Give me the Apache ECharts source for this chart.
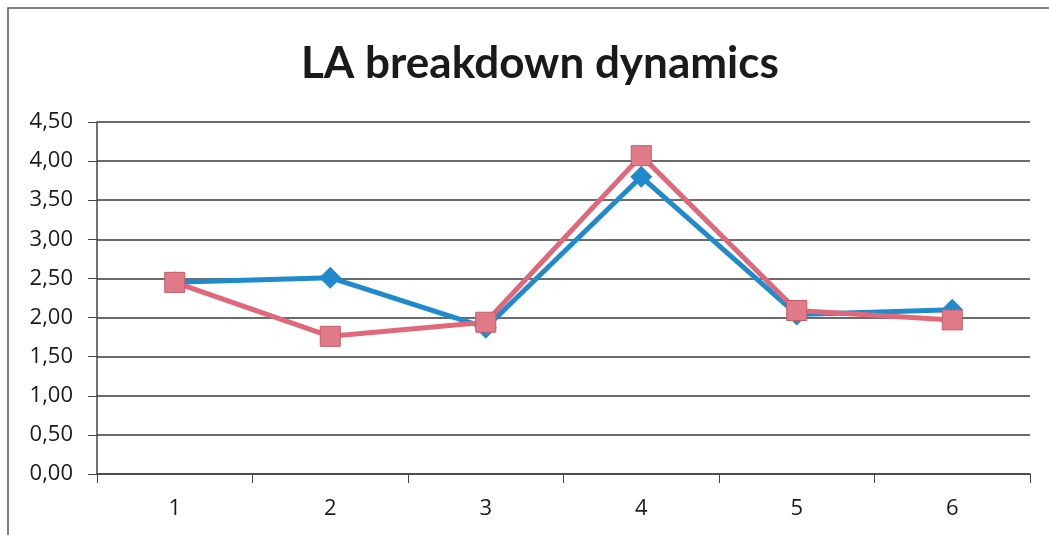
<!DOCTYPE html>
<html>
<head>
<meta charset="utf-8">
<script src="https://cdn.jsdelivr.net/npm/echarts@6/dist/echarts.min.js"></script>
<style>
  html, body { margin: 0; padding: 0; background: #fff; }
  #chart { width: 1049px; height: 535px; }
</style>
</head>
<body>
<div id="chart"></div>
<script>
// chart data
const categories = ['1', '2', '3', '4', '5', '6'];
const blueValues = [2.45, 2.51, 1.87, 3.80, 2.04, 2.10];
const redValues = [2.45, 1.76, 1.94, 4.07, 2.09, 1.97];
const yTicks = [0, 0.5, 1, 1.5, 2, 2.5, 3, 3.5, 4, 4.5];

const chart = echarts.init(document.getElementById('chart'));

const option = {
  backgroundColor: '#fff',
  animation: false,
  title: {
    text: 'LA breakdown dynamics',
    left: 296,
    top: 37,
    textStyle: {
      fontFamily: 'Lato',
      fontWeight: 'bold',
      fontSize: 44,
      color: '#1a1a1a',
    },
  },
  graphic: [
    // frame of the chart (left and top edges)
    {
      type: 'polyline',
      shape: { points: [[8, 535], [8, 8], [1049, 8]] },
      style: { stroke: '#555', lineWidth: 1.5, fill: null },
    },
  ],
  grid: {
    left: 97,
    right: 19,
    top: 122,
    bottom: 61,
  },
  xAxis: {
    type: 'category',
    data: categories,
    boundaryGap: true,
    axisLine: { lineStyle: { color: '#444', width: 1.5 } },
    axisTick: { show: true, length: 9, lineStyle: { color: '#444' } },
    axisLabel: {
      fontFamily: 'Open Sans',
      fontSize: 22,
      color: '#1a1a1a',
      margin: 24,
    },
  },
  yAxis: {
    type: 'value',
    min: yTicks[0],
    max: yTicks[yTicks.length - 1],
    interval: 0.5,
    axisLine: { show: true, lineStyle: { color: '#444', width: 1.5 } },
    axisTick: { show: true, length: 9, lineStyle: { color: '#444' } },
    splitLine: { show: true, lineStyle: { color: '#3a3a3a', width: 1.5 } },
    axisLabel: {
      fontFamily: 'Open Sans',
      fontSize: 22,
      color: '#1a1a1a',
      margin: 24,
      formatter: (v) => v.toFixed(2).replace('.', ','),
    },
  },
  series: [
    {
      name: 'Series 1',
      type: 'line',
      data: blueValues,
      symbol: 'diamond',
      symbolSize: 22,
      lineStyle: { color: '#1f8bcd', width: 5 },
      itemStyle: { color: '#1f8bcd' },
      z: 2,
    },
    {
      name: 'Series 2',
      type: 'line',
      data: redValues,
      symbol: 'rect',
      symbolSize: 20,
      lineStyle: { color: '#e0687a', width: 5 },
      itemStyle: { color: '#e07a86', borderColor: '#c85a68', borderWidth: 1 },
      z: 3,
    },
  ],
};

chart.setOption(option);
</script>
</body>
</html>
